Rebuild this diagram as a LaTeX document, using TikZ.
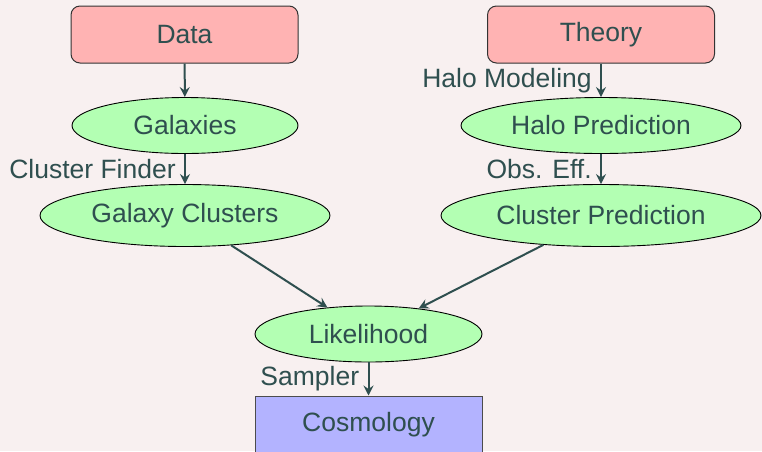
\documentclass[tikz,border=0pt]{standalone}
\usepackage{fontspec}
\setmainfont{Liberation Sans}
\usetikzlibrary{shapes.geometric,arrows.meta}
\definecolor{bgpink}{RGB}{248,240,240}
\definecolor{inkslate}{RGB}{47,79,79}
\definecolor{boxred}{RGB}{255,179,179}
\definecolor{ovalgreen}{RGB}{179,255,179}
\definecolor{boxblue}{RGB}{179,179,255}
\tikzset{
  every node/.style={font=\fontsize{26.5}{30}\selectfont, text=inkslate},
  sourcebox/.style={draw=black!80, line width=1pt, fill=boxred, rounded corners=9pt,
    minimum width=227pt, minimum height=57pt, inner sep=0pt},
  resultbox/.style={draw=black!70, line width=1pt, fill=boxblue,
    minimum width=227pt, minimum height=57pt, inner sep=0pt},
  oval/.style={ellipse, draw=black, line width=0.9pt, fill=ovalgreen, inner sep=0pt},
  flow/.style={draw=inkslate, line width=2pt, -{Stealth[length=10pt,width=10pt,inset=3.5pt]}},
  steplabel/.style={left=5pt},
}
\begin{document}
\begin{tikzpicture}[x=1pt, y=-1pt]
  \useasboundingbox (0,0) rectangle (762,451);
  \fill[bgpink] (0,0) rectangle (762,451);

  % observational branch
  \node[sourcebox] (data) at (184.5,34.5) {Data};
  \node[oval, minimum width=226pt, minimum height=56pt] (gal) at (185,125.5) {Galaxies};
  \node[oval, minimum width=290pt, minimum height=62pt] (gc) at (185,215.5) {Galaxy Clusters};

  % theory branch
  \node[sourcebox] (theory) at (601,34.5) {Theory};
  \node[oval, minimum width=280pt, minimum height=56pt] (hp) at (601,125.5) {Halo Prediction};
  \node[oval, minimum width=320pt, minimum height=62pt] (cp) at (601,215.5) {Cluster Prediction};

  % combination
  \node[oval, minimum width=227pt, minimum height=56pt] (lik) at (368.5,334) {Likelihood};
  \node[resultbox] (cosmo) at (368.5,424.5) {Cosmology};

  \draw[flow] (data) -- (gal);
  \draw[flow] (gal) -- node[steplabel] (lcf) {Cluster Finder} (gc);
  \draw[flow] (theory) -- node[steplabel] (lhm) {Halo Modeling} (hp);
  \draw[flow] (hp) -- node[steplabel] (loe) {Obs. Eff.} (cp);
  \draw[flow] (gc) -- (lik);
  \draw[flow] (cp) -- (lik);
  \draw[flow] (lik) -- node[steplabel] (lsa) {Sampler} (cosmo);
\end{tikzpicture}
\end{document}
